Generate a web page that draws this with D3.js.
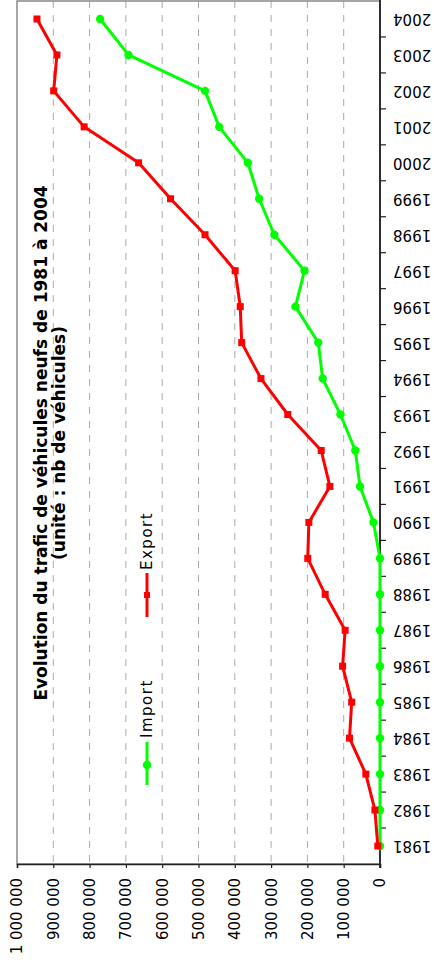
<!DOCTYPE html>
<html>
<head>
<meta charset="utf-8">
<script src="https://cdn.jsdelivr.net/npm/d3@7"></script>
<style>
  html, body { margin: 0; padding: 0; background: #fff; }
  svg { display: block; font-family: "DejaVu Sans", sans-serif; }
</style>
</head>
<body>
<script>
const years = ["1981","1982","1983","1984","1985","1986","1987","1988","1989","1990","1991","1992",
               "1993","1994","1995","1996","1997","1998","1999","2000","2001","2002","2003","2004"];
const exportValues = [6000, 14000, 39000, 84000, 78000, 103000, 96000, 151000, 199000, 196000, 138000, 162000,
                      254000, 328000, 381000, 385000, 399000, 482000, 577000, 665000, 815000, 899000, 890000, 945000];
const importValues = [0, 0, 0, 0, 0, 0, 0, 0, 0, 18000, 55000, 68000,
                      109000, 158000, 170000, 233000, 208000, 291000, 333000, 364000, 443000, 482000, 693000, 771000];
const valueTicks = [0, 100000, 200000, 300000, 400000, 500000, 600000, 700000, 800000, 900000, 1000000];
const seriesNames = ["Import", "Export"];
const seriesColors = ["#00ff00", "#ff0000"];
const titleLines = ["Evolution du trafic de véhicules neufs de 1981 à 2004", "(unité : nb de véhicules)"];

const W = 434, H = 970;
const plot = { left: 17, right: 380, top: 1, bottom: 864 };

const svg = d3.select("body").append("svg").attr("width", W).attr("height", H);

const y = d3.scaleBand().domain(years).range([plot.bottom, plot.top]);
const x = d3.scaleLinear().domain([0, 1000000]).range([plot.right, plot.left]);
const fmt = d3.formatLocale({ decimal: ",", thousands: " ", grouping: [3], currency: ["", ""] }).format(",d");

// grid
svg.append("g").selectAll("line")
  .data(valueTicks.filter(v => v > 0 && v < 1000000))
  .join("line")
  .attr("x1", d => x(d)).attr("x2", d => x(d))
  .attr("y1", plot.top).attr("y2", plot.bottom)
  .attr("stroke", "#aaa").attr("stroke-width", 1)
  .attr("stroke-dasharray", "7,7");

// frame
svg.append("rect")
  .attr("x", plot.left).attr("y", plot.top)
  .attr("width", plot.right - plot.left).attr("height", plot.bottom - plot.top)
  .attr("fill", "none").attr("stroke", "#888").attr("stroke-width", 1.5);

// value axis (bottom)
const xAxis = svg.append("g")
  .attr("transform", `translate(0,${plot.bottom})`)
  .call(d3.axisBottom(x).tickValues(valueTicks).tickSize(4).tickFormat(fmt));
xAxis.select(".domain").attr("stroke", "#222").attr("stroke-width", 1.5);
xAxis.selectAll(".tick line").attr("stroke", "#222").attr("stroke-width", 1.2);
xAxis.selectAll(".tick text")
  .attr("x", 0).attr("y", 0).attr("dy", "0.33em")
  .attr("text-anchor", "end")
  .attr("transform", "translate(0,14) rotate(-90)")
  .attr("font-size", 15).attr("font-family", "DejaVu Sans").attr("fill", "#000");

// year axis (right)
const yAxis = svg.append("g")
  .attr("transform", `translate(${plot.right},0)`)
  .call(d3.axisRight(y).tickSize(0).tickPadding(13));
yAxis.select(".domain").remove();
yAxis.selectAll(".tick text")
  .attr("x", 13).attr("dy", "0.33em")
  .attr("text-anchor", "end")
  .attr("transform", "rotate(180,13,0)")
  .attr("font-size", 15).attr("font-family", "DejaVu Sans").attr("fill", "#000");
yAxis.append("g").selectAll("line")
  .data(years.slice(0, -1))
  .join("line")
  .attr("x1", 0).attr("x2", 6)
  .attr("y1", d => y(d)).attr("y2", d => y(d))
  .attr("stroke", "#222").attr("stroke-width", 1.2);
yAxis.append("line")
  .attr("x1", 0).attr("x2", 0).attr("y1", plot.top - 1).attr("y2", plot.bottom + 4)
  .attr("stroke", "#222").attr("stroke-width", 1.8);

// series
const cy = d => y(d) + y.bandwidth() / 2;
const line = d3.line().x(d => x(d.v)).y(d => cy(d.year));
const seriesData = [importValues, exportValues].map((vals, i) => ({
  name: seriesNames[i], color: seriesColors[i],
  points: years.map((yr, j) => ({ year: yr, v: vals[j] }))
}));

seriesData.forEach((s, i) => {
  const g = svg.append("g");
  g.append("path").datum(s.points)
    .attr("d", line).attr("fill", "none")
    .attr("stroke", s.color).attr("stroke-width", 3).attr("stroke-linejoin", "round");
  if (i === 0) {
    g.selectAll("circle").data(s.points).join("circle")
      .attr("cx", d => x(d.v)).attr("cy", d => cy(d.year)).attr("r", 4.2)
      .attr("fill", s.color);
  } else {
    g.selectAll("rect").data(s.points).join("rect")
      .attr("x", d => x(d.v) - 3.5).attr("y", d => cy(d.year) - 3.5)
      .attr("width", 7).attr("height", 7)
      .attr("fill", s.color);
  }
});

// legend
const legendPos = [{ y0: 742, y1: 785, m: 765, t: 738 }, { y0: 573, y1: 617, m: 595, t: 570 }];
const lx = 147;
seriesData.forEach((s, i) => {
  const p = legendPos[i];
  const g = svg.append("g");
  g.append("line").attr("x1", lx).attr("x2", lx).attr("y1", p.y0).attr("y2", p.y1)
    .attr("stroke", s.color).attr("stroke-width", 3);
  if (i === 0) {
    g.append("circle").attr("cx", lx).attr("cy", p.m).attr("r", 4.2).attr("fill", s.color);
  } else {
    g.append("rect").attr("x", lx - 3).attr("y", p.m - 3).attr("width", 6).attr("height", 6).attr("fill", s.color);
  }
  g.append("text")
    .attr("transform", `translate(${lx},${p.t}) rotate(-90)`)
    .attr("dy", "0.36em")
    .attr("text-anchor", "start")
    .attr("font-size", 15).attr("letter-spacing", 1.5)
    .attr("font-family", "DejaVu Sans").attr("fill", "#000")
    .text(s.name);
});

// title
const titleBase = [47, 65];
titleLines.forEach((t, i) => {
  svg.append("text")
    .attr("transform", `translate(${titleBase[i]},443) rotate(-90)`)
    .attr("text-anchor", "middle")
    .attr("font-size", 17).attr("font-weight", "bold").attr("font-family", "DejaVu Sans")
    .attr("fill", "#000")
    .text(t);
});
</script>
</body>
</html>
